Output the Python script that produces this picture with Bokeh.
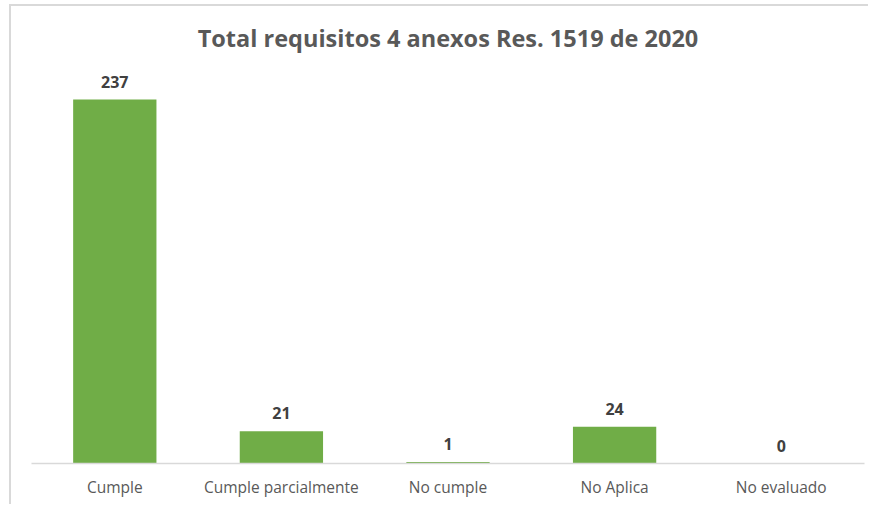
from bokeh.plotting import figure
from bokeh.models import ColumnDataSource, LabelSet, Range1d, FactorRange
from bokeh.core.properties import value
from bokeh.embed import file_html
from bokeh.resources import INLINE

categories = ["Cumple", "Cumple parcialmente", "No cumple", "No Aplica", "No evaluado"]
counts = [237, 21, 1, 24, 0]
labels = [str(v) for v in counts]

src = ColumnDataSource(dict(cat=categories, val=counts, lab=labels))

FONT = "Open Sans"

p = figure(x_range=FactorRange(*categories, range_padding=0), y_range=Range1d(0, 265),
           width=859, height=500, output_backend="svg", toolbar_location=None,
           y_axis_location=None, title="Total requisitos 4 anexos Res. 1519 de 2020")
p.min_border_left = 20
p.min_border_right = 6
p.min_border_top = 50
p.min_border_bottom = 43
p.outline_line_color = None
p.grid.visible = False
p.background_fill_color = "white"
p.border_fill_color = "white"
p.styles = {"margin-left": "9px", "margin-top": "4px",
            "border-left": "2px solid #D9D9D9", "border-top": "2px solid #D9D9D9"}

p.title.align = "center"
p.title.text_font = FONT
p.title.text_font_size = "23.5px"
p.title.text_font_style = "bold"
p.title.text_color = "#595959"
p.title.offset = 0
p.title.standoff = 5

p.vbar(x="cat", top="val", width=0.5, source=src, color="#70AD47", line_color=None)

p.add_layout(LabelSet(x="cat", y="val", text="lab", source=src, y_offset=12,
                      text_align="center", text_baseline="bottom",
                      text_font=value(FONT), text_font_size="16px",
                      text_font_style="bold", text_color="#404040"))

ax = p.xaxis[0]
ax.axis_line_color = "#D9D9D9"
ax.axis_line_width = 1.5
ax.major_tick_line_color = None
ax.minor_tick_line_color = None
ax.major_label_text_font = FONT
ax.major_label_text_font_size = "15.5px"
ax.major_label_text_color = "#595959"
ax.major_label_standoff = 6

open("out.html", "w").write(file_html(p, INLINE))
